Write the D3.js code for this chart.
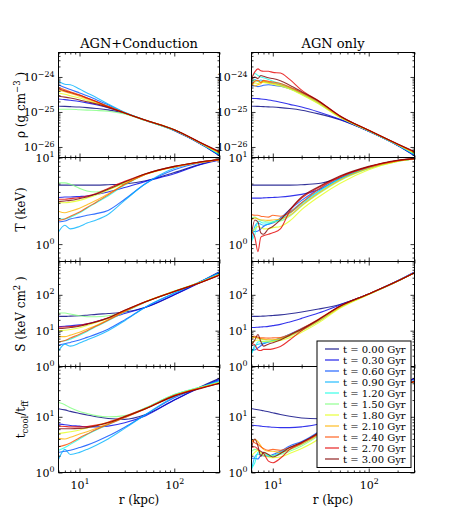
<!DOCTYPE html>
<html><head><meta charset="utf-8">
<script src="https://cdn.jsdelivr.net/npm/d3@7"></script>
<style>
body{margin:0;background:#fff}
svg{display:block}
text{font-family:"DejaVu Serif",serif;fill:#000}
</style>
</head><body>
<svg id="c" width="460" height="525"></svg>
<script>
// ---------------- DATA ----------------
const times = ["0.00","0.30","0.60","0.90","1.20","1.50","1.80","2.10","2.40","2.70","3.00"];
const colTitles = ["AGN+Conduction","AGN only"];

// radius grids (kpc)
const rCond = [6, 7, 8, 10, 12, 15, 20, 30, 50, 100, 200, 300];
const rAgn  = [6, 6.5, 7, 7.5, 8, 9, 10, 12, 15, 20, 30, 50, 100, 200, 300];

// density, in units of 1e-25 g cm^-3
const rhoUnit = 1e-25;
const rhoCond = [
  [1.45,1.44,1.42,1.38,1.33,1.26,1.15,0.92,0.57,0.29,0.112,0.056],
  [2.35,2.25,2.15,1.98,1.82,1.6,1.32,0.93,0.57,0.30,0.113,0.057],
  [6.0,5.0,4.4,3.5,2.9,2.25,1.6,0.96,0.57,0.30,0.114,0.058],
  [7.5,6.2,6.0,4.5,3.5,2.6,1.7,0.98,0.58,0.30,0.115,0.06],
  [4.5,4.0,3.6,3.0,2.5,2.0,1.48,0.95,0.58,0.31,0.117,0.062],
  [1.2,1.2,1.2,1.16,1.13,1.1,1.05,0.88,0.56,0.30,0.118,0.064],
  [3.5,3.2,2.9,2.5,2.15,1.8,1.38,0.93,0.58,0.31,0.119,0.066],
  [4.2,3.8,3.4,2.8,2.35,1.9,1.42,0.94,0.58,0.31,0.12,0.068],
  [5.0,4.3,3.8,3.1,2.5,2.0,1.45,0.94,0.58,0.31,0.122,0.07],
  [4.6,4.0,3.6,3.0,2.5,1.98,1.42,0.94,0.58,0.31,0.123,0.072],
  [2.8,2.65,2.5,2.2,1.95,1.7,1.35,0.93,0.58,0.31,0.124,0.074]
];
const rhoAgn = [
  [1.45,1.45,1.44,1.43,1.42,1.4,1.38,1.33,1.25,1.12,0.88,0.6,0.28,0.11,0.056],
  [2.45,2.42,2.4,2.35,2.3,2.2,2.1,1.9,1.65,1.38,1.0,0.62,0.28,0.111,0.057],
  [5.4,5.6,5.3,5.5,5.8,6.0,5.8,5.4,4.6,3.4,1.9,0.72,0.28,0.112,0.058],
  [7.0,8.5,7.5,8.2,7.8,7.0,6.8,6.0,5.0,3.6,2.0,0.75,0.29,0.113,0.06],
  [9.0,12.5,11.0,10.0,9.5,8.5,7.5,6.5,5.0,3.4,1.9,0.74,0.29,0.115,0.062],
  [7.5,8.0,7.6,7.0,7.3,6.8,6.5,5.8,4.6,3.2,1.75,0.7,0.29,0.116,0.064],
  [6.0,6.8,6.5,7.2,7.0,6.6,6.2,5.5,4.5,3.1,1.7,0.7,0.29,0.117,0.066],
  [6.5,5.5,6.0,6.5,7.5,7.0,6.6,6.0,4.9,3.4,1.85,0.73,0.3,0.118,0.068],
  [6.0,7.5,8.0,7.0,8.0,7.5,7.2,6.5,5.2,3.6,2.0,0.76,0.3,0.12,0.07],
  [9.0,14.0,17.0,15.0,14.5,14.5,13.5,13.0,8.5,4.2,2.1,0.78,0.3,0.121,0.072],
  [8.5,10.0,9.0,11.0,10.5,9.5,9.0,7.8,5.8,3.8,2.05,0.77,0.3,0.122,0.074]
];

// temperature, keV
const tempCond = [
  [4.8,4.8,4.8,4.8,4.8,4.8,4.85,4.95,5.4,6.7,8.5,9.4],
  [3.45,3.5,3.5,3.55,3.6,3.75,4.0,4.5,5.3,6.5,8.4,9.3],
  [1.8,1.85,1.95,2.05,2.15,2.25,2.45,3.3,5.0,7.2,8.8,9.4],
  [1.38,1.65,1.5,1.6,1.75,1.9,2.2,3.2,5.0,7.5,8.9,9.5],
  [1.95,1.95,2.05,2.3,2.6,3.0,3.6,4.8,6.4,7.8,8.9,9.5],
  [5.1,5.1,4.9,4.4,4.1,4.0,4.3,5.1,6.5,7.9,9.0,9.5],
  [3.0,3.0,3.05,3.2,3.4,3.7,4.2,5.1,6.4,7.8,8.9,9.4],
  [2.4,2.3,2.4,2.6,2.85,3.2,3.8,4.9,6.4,7.8,8.9,9.4],
  [1.88,1.95,2.1,2.35,2.65,3.05,3.7,4.9,6.4,7.8,8.9,9.4],
  [3.3,3.3,3.35,3.45,3.6,3.85,4.4,5.3,6.5,7.9,9.0,9.5],
  [3.1,3.15,3.2,3.35,3.5,3.8,4.3,5.2,6.5,7.9,9.0,9.5]
];
const tempAgn = [
  [4.8,4.8,4.8,4.8,4.8,4.8,4.8,4.8,4.8,4.85,5.0,5.8,7.6,9.1,9.6],
  [3.4,3.4,3.4,3.4,3.42,3.44,3.46,3.5,3.58,3.75,4.25,5.7,7.6,9.1,9.6],
  [1.45,1.4,1.42,1.5,1.6,1.7,1.75,2.0,2.5,3.2,4.3,5.9,7.7,9.2,9.7],
  [1.05,1.6,1.75,1.7,1.65,1.7,1.8,1.95,2.35,3.0,4.1,5.7,7.6,9.1,9.7],
  [1.1,1.3,1.85,1.8,1.75,1.75,1.8,1.9,2.25,2.9,4.0,5.6,7.5,9.1,9.7],
  [2.0,2.05,1.95,1.9,1.85,1.8,1.8,1.85,2.1,2.75,3.8,5.4,7.4,9.0,9.7],
  [1.35,1.5,1.6,1.55,1.5,1.5,1.55,1.6,1.85,2.5,3.5,5.0,7.2,9.0,9.6],
  [1.9,2.0,1.95,1.9,1.9,1.88,1.9,1.95,2.15,2.8,3.9,5.5,7.5,9.1,9.7],
  [2.2,2.15,2.15,2.1,2.08,2.05,2.15,2.1,2.3,3.0,4.3,5.9,7.8,9.2,9.7],
  [1.4,1.2,0.82,1.2,1.25,1.3,1.35,1.5,2.4,3.4,4.5,6.0,7.8,9.2,9.7],
  [1.3,1.9,1.8,1.35,1.3,1.5,1.6,1.9,2.5,3.5,4.6,6.1,7.9,9.3,9.7]
];

// entropy, keV cm^2
const entCond = [
  [25,25,25.5,26,27,28.5,30,33,45,100,250,440],
  [13,13.3,13.6,14.5,15.5,18,22,30,45,100,240,420],
  [4.0,4.3,4.7,5.5,6.5,8,11,20,46,110,250,420],
  [2.7,4.2,3.7,4.5,5.5,7,10,19,46,112,250,410],
  [4.8,5.2,5.8,7.5,9.5,13,19,33,63,125,240,380],
  [31,31,29,26,24.5,24.5,26,35,65,127,240,375],
  [10,10.3,10.8,12,14,17,22,36,64,125,238,370],
  [6.8,6.8,7.5,9,11,14,20,35,64,125,236,365],
  [4.8,5.3,6.2,8,10,13.5,19.5,34,64,124,234,360],
  [12.5,12.7,13,14,15.5,18,23,37,65,124,232,355],
  [11.5,11.7,12.2,13.3,15,17.5,22.5,37,64,123,230,350]
];
const entAgn = [
  [25,25,25,25.2,25.5,26,26.5,27.5,29.5,33,40,54,105,240,420],
  [12.2,12.3,12.5,12.6,12.8,13.2,13.8,15,17.5,22,31,52,105,245,430],
  [3.0,2.9,3.3,3.8,4.3,4.8,5.2,6.2,8,11.5,20,47,105,245,425],
  [2.2,3.8,4.2,4.3,4.5,4.8,5.1,6,7.8,11,19.5,46,104,243,420],
  [2.4,3.3,4.8,5,4.9,5,5.2,6,7.5,10.5,19,45,104,242,415],
  [6.5,6.6,6.2,5.8,5.6,5.5,5.5,5.8,7,10,18,44,103,240,410],
  [4.5,5.2,5.5,5.2,5.0,4.9,5.0,5.3,6.3,9,16.5,42,102,238,405],
  [6.0,6.5,6.2,6.0,5.8,5.6,5.6,5.9,7.2,10.2,18.5,45,104,240,410],
  [6.8,7.0,6.6,6.3,6.3,6.2,6.3,6.4,7.8,11.5,21,48,106,243,415],
  [4.4,4.0,2.9,2.8,3.0,3.0,3.1,3.6,5.5,10,20,48,106,243,415],
  [4.0,5.5,7.8,5.0,3.7,4.2,4.6,5.5,7.5,11,20.5,48,106,243,415]
];

// t_cool / t_ff
const ratioCond = [
  [14,13.3,12.5,11.5,10.8,10,9.3,9.0,11,20,36,49],
  [7.4,7.2,7.0,6.8,6.6,6.6,6.8,7.8,10.5,20,35,47],
  [2.3,2.4,2.5,2.8,3.1,3.6,4.5,6.5,11,22,35,45],
  [1.7,2.6,2.1,2.3,2.6,3.1,4.0,6.2,11,23,35,44],
  [2.5,2.8,3.2,4.0,4.8,5.8,7.2,9.8,14.5,25,35,42],
  [18,16.5,14.5,12.5,11.5,10.5,10,10.5,14.5,25,35,42],
  [5.0,5.2,5.4,5.8,6.3,7,8,10,14.2,24,34,41],
  [4.1,4.0,4.3,4.9,5.4,6.2,7.5,9.8,14,24,34,41],
  [2.9,3.1,3.4,4.2,4.9,5.9,7.3,9.7,14,24,33.5,40],
  [6.8,6.7,6.6,6.6,6.7,7.1,8,10.2,14.2,24,33.5,40],
  [6.1,6.1,6.1,6.2,6.4,6.9,7.8,10.0,14,23.5,33,39.5]
];
const ratioAgn = [
  [14,13.7,13.4,13.1,12.8,12.3,11.8,11,10.2,9.5,9.2,10.5,20,36,49],
  [7.1,7.0,6.9,6.8,6.7,6.6,6.5,6.4,6.4,6.6,7.4,11,21,36,48],
  [1.8,1.8,1.75,2.0,2.0,1.95,2.1,2.4,3.0,3.6,5.4,11,23,36,45],
  [1.1,1.9,2.15,2.1,2.0,1.95,2.0,2.3,2.8,3.4,5.2,11,23,35,44],
  [1.2,1.5,2.3,2.4,2.2,2.0,2.0,2.2,2.6,3.2,5.0,10.5,22,35,43],
  [2.4,2.6,2.5,2.3,2.2,2.1,2.0,2.1,2.4,3.0,4.6,10,22,35,43],
  [2.0,2.3,2.5,2.2,2.0,1.9,1.85,1.9,2.2,2.7,4.0,9,21,34,42],
  [3.5,3.9,3.6,3.0,2.6,2.4,2.4,2.3,2.6,3.2,4.8,10.5,22,35,43],
  [3.9,3.4,3.2,2.9,2.7,2.5,2.6,2.5,2.8,3.4,5.2,11,23,35,43],
  [2.8,2.9,2.6,2.4,2.2,1.6,1.5,1.8,2.6,3.4,5.0,11,23,35,43],
  [2.8,4.0,3.0,1.95,2.3,2.1,1.9,2.2,2.8,3.5,5.2,11,23,35,43]
];

// axis domains and labelled decades
const xDomain = [6, 300];
const rhoDomain = [5e-27, 5e-24];
const tempDomain = [0.63, 10];
const entDomain = [1, 850];
const ratioDomain = [1, 80];

// ---------------- LAYOUT ----------------
const svg = d3.select("#c");
const colX = [[58.5, 219.5], [251.5, 414.5]];
const rowY = [52.5, 157.5, 261.5, 366.5, 472.5];
const FONT = '"DejaVu Serif", serif';

function jet(v){
  const c = x => Math.max(0, Math.min(1, x));
  const r = c(1.5 - Math.abs(4*v - 3)), g = c(1.5 - Math.abs(4*v - 2)), b = c(1.5 - Math.abs(4*v - 1));
  return d3.rgb(r*255, g*255, b*255).formatHex();
}
const colors = times.map((t,i) => jet(i/(times.length-1)));

const rows = [
  {domain: rhoDomain, sets: [rhoCond.map(a=>a.map(v=>v*rhoUnit)), rhoAgn.map(a=>a.map(v=>v*rhoUnit))]},
  {domain: tempDomain, sets: [tempCond, tempAgn]},
  {domain: entDomain, sets: [entCond, entAgn]},
  {domain: ratioDomain, sets: [ratioCond, ratioAgn]}
];
const grids = [rCond, rAgn];

function minorTicks(domain){
  const out = [];
  const lo = Math.floor(Math.log10(domain[0])), hi = Math.ceil(Math.log10(domain[1]));
  for (let e = lo; e <= hi; e++) for (let m = 2; m <= 9; m++){
    const v = m*Math.pow(10,e);
    if (v >= domain[0]*0.999 && v <= domain[1]*1.001) out.push(v);
  }
  return out;
}
function majorTicks(domain){
  const out = [];
  const lo = Math.floor(Math.log10(domain[0])), hi = Math.ceil(Math.log10(domain[1]));
  for (let e = lo; e <= hi; e++){ const v = Math.pow(10,e); if (v >= domain[0]*0.999 && v <= domain[1]*1.001) out.push(v); }
  return out;
}
function powText(textSel, exp, fs){
  textSel.text(null);
  textSel.append("tspan").text("10");
  textSel.append("tspan").attr("dy", -fs*0.45).attr("font-size", fs*0.72)
    .text(exp < 0 ? "\u2212" + (-exp) : String(exp));
}
function styleAxis(g){
  g.attr("font-family", FONT).select(".domain").remove();
  g.selectAll(".tick line").attr("stroke", "#000").attr("stroke-width", 0.8);
}

let clipId = 0;
rows.forEach((row, ri) => {
  const y0 = rowY[ri], y1 = rowY[ri+1];
  colX.forEach((cx, ci) => {
    const x = d3.scaleLog().domain(xDomain).range(cx);
    const y = d3.scaleLog().domain(row.domain).range([y1, y0]);
    const id = "clip" + (clipId++);
    svg.append("clipPath").attr("id", id).append("rect")
      .attr("x", cx[0]).attr("y", y0).attr("width", cx[1]-cx[0]).attr("height", y1-y0);
    const g = svg.append("g");
    const lineGen = d3.line().x(d=>x(d[0])).y(d=>y(d[1])).curve(d3.curveMonotoneX);
    const grid = grids[ci];
    row.sets[ci].forEach((vals, k) => {
      g.append("path").attr("clip-path", `url(#${id})`)
        .attr("d", lineGen(grid.map((r,j)=>[r, vals[j]])))
        .attr("fill", "none").attr("stroke", colors[k]).attr("stroke-opacity", 0.8)
        .attr("stroke-width", 1.1);
    });

    const yMaj = majorTicks(row.domain), yMin = minorTicks(row.domain);
    const xMaj = majorTicks(xDomain), xMin = minorTicks(xDomain);
    // left
    const gl = svg.append("g").attr("transform", `translate(${cx[0]},0)`)
      .call(d3.axisLeft(y).tickValues(yMaj).tickSizeInner(-4).tickSizeOuter(0).tickPadding(4));
    styleAxis(gl);
    gl.selectAll(".tick text").attr("font-size", 11).attr("fill", "#000").attr("dy", null).attr("y", 4)
      .each(function(d){ powText(d3.select(this), Math.round(Math.log10(d)), 11); });
    const glm = svg.append("g").attr("transform", `translate(${cx[0]},0)`)
      .call(d3.axisLeft(y).tickValues(yMin).tickSizeInner(-2).tickSizeOuter(0).tickFormat(""));
    styleAxis(glm);
    // right
    [[4, yMaj],[2, yMin]].forEach(([s, tv]) => {
      const gr = svg.append("g").attr("transform", `translate(${cx[1]},0)`)
        .call(d3.axisRight(y).tickValues(tv).tickSizeInner(-s).tickSizeOuter(0).tickFormat(""));
      styleAxis(gr);
    });
    // top
    [[4, xMaj],[2, xMin]].forEach(([s, tv]) => {
      const gt = svg.append("g").attr("transform", `translate(0,${y0})`)
        .call(d3.axisTop(x).tickValues(tv).tickSizeInner(-s).tickSizeOuter(0).tickFormat(""));
      styleAxis(gt);
    });
    // bottom
    const gb = svg.append("g").attr("transform", `translate(0,${y1})`)
      .call(d3.axisBottom(x).tickValues(xMaj).tickSizeInner(-4).tickSizeOuter(0).tickPadding(6));
    styleAxis(gb);
    if (ri === rows.length - 1) {
      gb.selectAll(".tick text").attr("font-size", 11).attr("fill", "#000").attr("dy", null).attr("y", 16)
        .each(function(d){ powText(d3.select(this), Math.round(Math.log10(d)), 11); });
    } else {
      gb.selectAll(".tick text").remove();
    }
    const gbm = svg.append("g").attr("transform", `translate(0,${y1})`)
      .call(d3.axisBottom(x).tickValues(xMin).tickSizeInner(-2).tickSizeOuter(0).tickFormat(""));
    styleAxis(gbm);

    // frame
    svg.append("rect").attr("x", cx[0]).attr("y", y0).attr("width", cx[1]-cx[0]).attr("height", y1-y0)
      .attr("fill", "none").attr("stroke", "#000").attr("stroke-width", 1);
  });
});

// column titles
colTitles.forEach((t, ci) => {
  svg.append("text").attr("x", (colX[ci][0]+colX[ci][1])/2).attr("y", 48)
    .attr("text-anchor", "middle").attr("font-size", 13).text(t);
});

// y labels
function yLabel(ri, build){
  const cy = (rowY[ri]+rowY[ri+1])/2;
  const t = svg.append("text").attr("transform", `translate(25,${cy}) rotate(-90)`)
    .attr("text-anchor", "middle").attr("font-size", 12);
  build(t);
}
yLabel(0, t => {
  t.append("tspan").text("\u03c1 (g cm");
  t.append("tspan").attr("dy", -5).attr("font-size", 8.5).text("\u22123");
  t.append("tspan").attr("dy", 5).text(" )");
});
yLabel(1, t => { t.text("T (keV)"); });
yLabel(2, t => {
  t.append("tspan").text("S (keV cm");
  t.append("tspan").attr("dy", -5).attr("font-size", 8.5).text("2");
  t.append("tspan").attr("dy", 5).text(" )");
});
yLabel(3, t => {
  t.append("tspan").text("t");
  t.append("tspan").attr("dy", 3).attr("font-size", 8.5).text("cool");
  t.append("tspan").attr("dy", -3).text("/t");
  t.append("tspan").attr("dy", 3).attr("font-size", 8.5).text("ff");
});

// x labels
colX.forEach(cx => {
  svg.append("text").attr("x", (cx[0]+cx[1])/2).attr("y", 504)
    .attr("text-anchor", "middle").attr("font-size", 12).text("r (kpc)");
});

// legend
const lg = svg.append("g").attr("transform", "translate(317,341)");
lg.append("rect").attr("x", 0).attr("y", 0).attr("width", 94).attr("height", 126.5)
  .attr("fill", "#fff").attr("stroke", "#000").attr("stroke-width", 1);
times.forEach((t, i) => {
  const yy = 8 + i*11;
  lg.append("line").attr("x1", 8).attr("x2", 22).attr("y1", yy).attr("y2", yy)
    .attr("stroke", colors[i]).attr("stroke-opacity", 0.8).attr("stroke-width", 1.3);
  lg.append("text").attr("x", 26).attr("y", yy + 3.5).attr("font-size", 10).text(`t = ${t} Gyr`);
});
</script>
</body></html>
